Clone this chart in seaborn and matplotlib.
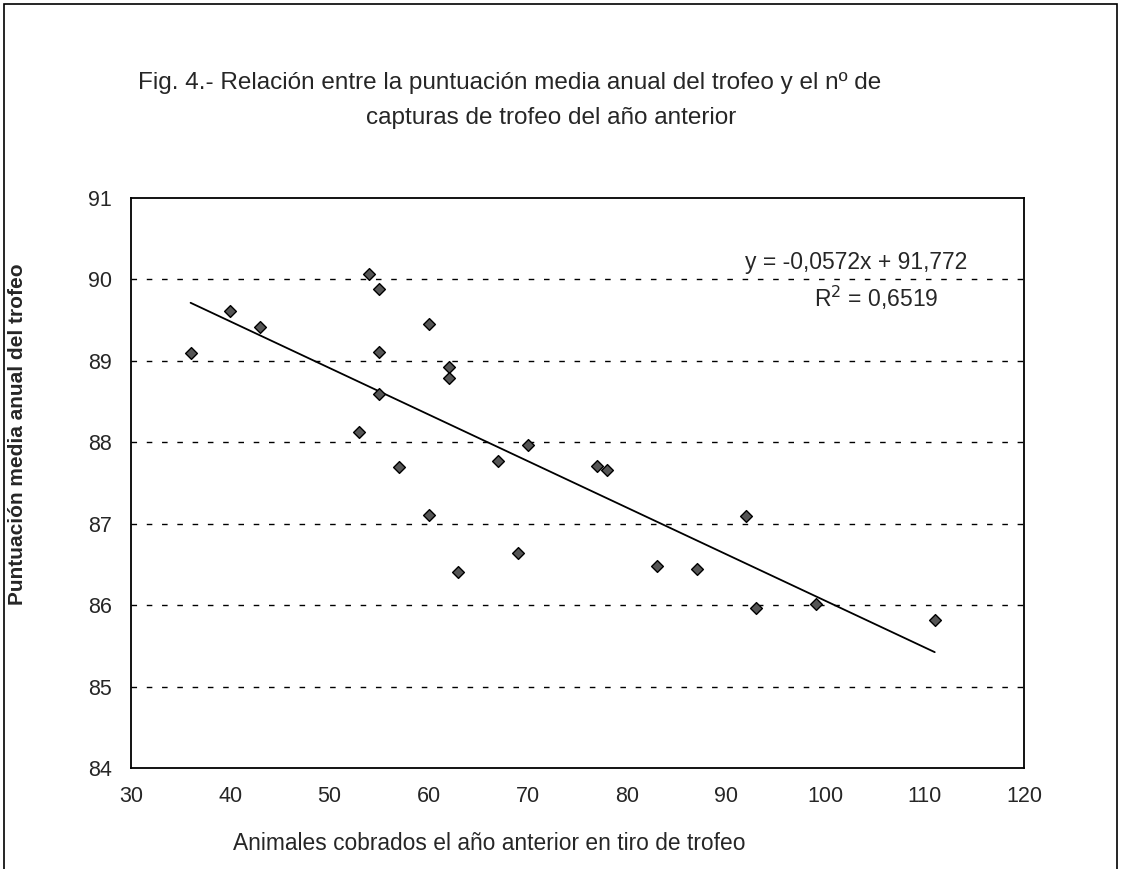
import numpy as np
import pandas as pd
import seaborn as sns
import matplotlib
matplotlib.use("Agg")
import matplotlib.pyplot as plt
from matplotlib.patches import Rectangle

# animals taken the previous year vs. mean annual trophy score
animales = [36, 40, 43, 53, 54, 55, 55, 55, 57, 60, 60, 62, 62, 63,
            67, 69, 70, 77, 78, 83, 87, 92, 93, 99, 111]
puntuacion = [89.10, 89.61, 89.42, 88.12, 90.07, 89.88, 89.11, 88.59,
              87.70, 89.45, 87.11, 88.92, 88.79, 86.41, 87.77, 86.64,
              87.97, 87.71, 87.66, 86.48, 86.44, 87.10, 85.97, 86.02, 85.82]

# Excel trendline as printed on the chart
pendiente = -0.0572
ordenada = 91.772
r2_texto = "0,6519"

x_ticks = [30, 40, 50, 60, 70, 80, 90, 100, 110, 120]
y_ticks = [84, 85, 86, 87, 88, 89, 90, 91]

titulo_1 = "Fig. 4.- Relación entre la puntuación media anual del trofeo y el nº de"
titulo_2 = "capturas de trofeo del año anterior"
xlabel = "Animales cobrados el año anterior en tiro de trofeo"
ylabel = "Puntuación media anual del trofeo"

NARROW = ["Liberation Sans Narrow", "Liberation Sans", "DejaVu Sans"]


def scatter_trofeo():
    data = pd.DataFrame({"animales": animales, "puntuacion": puntuacion})
    sns.set_style("white")
    plt.rcParams["font.family"] = ["Liberation Sans", "DejaVu Sans"]

    fig = plt.figure(figsize=(11.21, 8.69), dpi=100)
    ax = fig.add_axes([0.1169, 0.1162, 0.7966, 0.656])

    for y in y_ticks[1:-1]:
        ax.axhline(y, color="black", lw=1.0, ls=(0, (4, 7)), zorder=1)

    xs = np.array([data.animales.min(), data.animales.max()])
    sns.lineplot(x=xs, y=pendiente * xs + ordenada, color="black", lw=1.3, ax=ax, zorder=2)
    sns.scatterplot(x="animales", y="puntuacion", data=data, marker="D", s=36,
                    color="#555555", edgecolor="black", linewidth=1.0, ax=ax, zorder=3)

    ax.set_xlim(30, 120)
    ax.set_ylim(84, 91)
    ax.set_xticks(x_ticks)
    ax.set_yticks(y_ticks)
    ax.set(xlabel="", ylabel="")
    for s in ax.spines.values():
        s.set_color("black")
        s.set_linewidth(1.3)
    ax.tick_params(axis="x", direction="inout", length=14, width=1, labelsize=15.5, pad=6)
    ax.tick_params(axis="y", direction="out", length=8, width=1, labelsize=15.5, pad=6)

    ax.text(0.936, 0.886, "y = -0,0572x + 91,772", transform=ax.transAxes,
            ha="right", va="center", fontsize=16.5)
    ax.text(0.904, 0.825, "R$^2$ = " + r2_texto, transform=ax.transAxes,
            ha="right", va="center", fontsize=16.5)

    fig.text(0.455, 0.905, titulo_1, ha="center", va="center", fontsize=17.5, family=NARROW)
    fig.text(0.492, 0.864, titulo_2, ha="center", va="center", fontsize=17.5, family=NARROW)
    fig.text(0.436, 0.029, xlabel, ha="center", va="center", fontsize=16.4, family=NARROW)
    fig.text(0.016, 0.50, ylabel, ha="center", va="center", rotation=90, fontsize=15,
             family=NARROW, fontweight="bold")

    fig.patches.append(Rectangle((0.004, -0.01), 0.992, 1.005, transform=fig.transFigure,
                                 fill=False, edgecolor="black", lw=1.2))
    fig.savefig("out.png", dpi=100)


if __name__ == '__main__':
    scatter_trofeo()
